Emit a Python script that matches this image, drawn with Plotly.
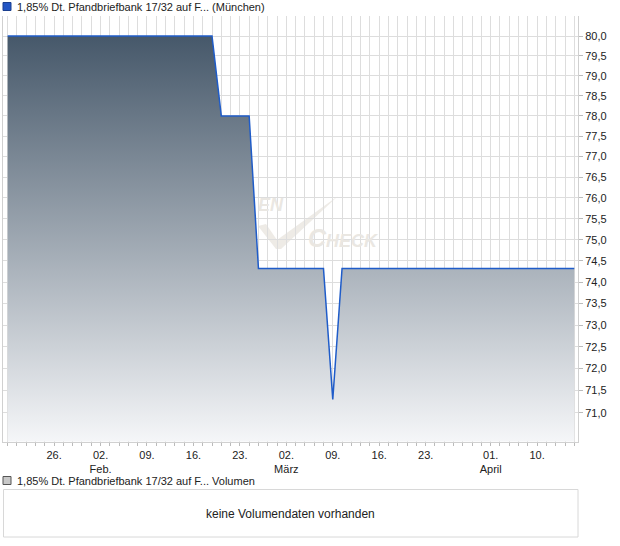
import pandas as pd
import plotly.graph_objects as go

# ---- data ----
title_main = "1,85% Dt. Pfandbriefbank 17/32 auf F... (München)"
title_vol = "1,85% Dt. Pfandbriefbank 17/32 auf F... Volumen"
no_volume_text = "keine Volumendaten vorhanden"

holidays = ["2026-04-03", "2026-04-06"]
dates = pd.bdate_range("2026-01-19", "2026-04-16", freq="C", holidays=holidays)
date_labels = [d.strftime("%Y-%m-%d") for d in dates]

prices = ([80.0] * 23 + [78.0] * 4 + [74.32] * 8 + [71.3] + [74.32] * 26)

tick_dates = ["2026-01-26", "2026-02-02", "2026-02-09", "2026-02-16", "2026-02-23",
              "2026-03-02", "2026-03-09", "2026-03-16", "2026-03-23", "2026-04-01", "2026-04-10"]
tick_texts = ["26.", "02.<br>Feb.", "09.", "16.", "23.", "02.<br>März", "09.", "16.", "23.",
              "01.<br>April", "10."]
y_ticks = [71.0, 71.5, 72.0, 72.5, 73.0, 73.5, 74.0, 74.5, 75.0, 75.5,
           76.0, 76.5, 77.0, 77.5, 78.0, 78.5, 79.0, 79.5, 80.0]

# ---- geometry helpers (pixel -> paper) ----
W, H = 620, 546
ML, MR, MT, MB = 3, 42, 16, 9
PW = W - ML - MR
PH = H - MT - MB


def px(x):
    return (x - ML) / PW


def py(y):
    return (H - MB - y) / PH


x_idx = list(range(len(date_labels)))
tick_idx = [date_labels.index(d) for d in tick_dates]

FONT = "Liberation Sans, Arial, sans-serif"

fig = go.Figure()
fig.add_trace(go.Scatter(
    x=x_idx, y=prices, mode="lines",
    line=dict(color="#1f5cc9", width=1.5),
    fill="tozeroy",
    fillgradient=dict(type="vertical", start=70.3, stop=80.0,
                      colorscale=[[0, "#f6f7f9"], [1, "#46586a"]]),
    hoverinfo="skip", showlegend=False,
))

main_bottom = py(441.5)

fig.update_layout(
    width=W, height=H,
    margin=dict(l=ML, r=MR, t=MT, b=MB),
    paper_bgcolor="white", plot_bgcolor="white",
    separators=",.",
    font=dict(family=FONT, size=11, color="#222222"),
    xaxis=dict(
        range=[-0.5, 61.4], zeroline=False,
        tickvals=tick_idx, ticktext=tick_texts,
        showgrid=True, gridcolor="#dddddd", gridwidth=1,
        ticks="outside", ticklen=3, tickcolor="#bbbbbb",
        minor=dict(dtick=1, tick0=0, showgrid=True, gridcolor="#dddddd",
                   ticks="outside", ticklen=3, tickcolor="#bbbbbb"),
        showline=True, linecolor="#d0d0d0", linewidth=1,
        tickfont=dict(size=11, color="#222222", family=FONT),
        fixedrange=True,
    ),
    yaxis=dict(
        type="log",
        domain=[main_bottom, 1], side="right",
        range=[1.847295, 1.905842], zeroline=False,
        tickvals=y_ticks, tickformat=".1f",
        showgrid=True, gridcolor="#dddddd", gridwidth=1,
        ticks="outside", ticklen=4, tickcolor="#bbbbbb",
        showline=True, mirror=True, linecolor="#d0d0d0", linewidth=1,
        tickfont=dict(size=11, color="#222222", family=FONT),
        fixedrange=True,
    ),
)

shapes = []
# top legend square
shapes.append(dict(type="rect", xref="paper", yref="paper",
                   x0=px(3), x1=px(11), y0=py(10.5), y1=py(2.5),
                   fillcolor="#2255c4", line=dict(color="#1a3f8f", width=1)))
# volume legend square
shapes.append(dict(type="rect", xref="paper", yref="paper",
                   x0=px(3), x1=px(11), y0=py(484.5), y1=py(476.5),
                   fillcolor="#c8c8c8", line=dict(color="#555555", width=1)))
# volume box
shapes.append(dict(type="rect", xref="paper", yref="paper",
                   x0=px(3.5), x1=px(578), y0=py(537), y1=py(489.5),
                   fillcolor="white", line=dict(color="#d8d8d8", width=1)))
# watermark check mark
pts = [(258, 226), (266, 224), (277, 240), (338, 196), (281, 249), (276, 249)]
path = "M " + " L ".join(f"{px(a):.5f},{py(b):.5f}" for a, b in pts) + " Z"
shapes.append(dict(type="path", xref="paper", yref="paper", path=path,
                   fillcolor="#eeebe6", line=dict(width=0), layer="below"))
fig.update_layout(shapes=shapes)

annotations = [
    dict(text=title_main, x=px(14.5), y=py(6.5), xref="paper", yref="paper",
         xanchor="left", yanchor="middle", showarrow=False,
         font=dict(size=11, color="#222222", family=FONT)),
    dict(text=title_vol, x=px(14.5), y=py(480.5), xref="paper", yref="paper",
         xanchor="left", yanchor="middle", showarrow=False,
         font=dict(size=11, color="#222222", family=FONT)),
    dict(text=no_volume_text, x=px(290.5), y=py(513.5), xref="paper", yref="paper",
         xanchor="center", yanchor="middle", showarrow=False,
         font=dict(size=12, color="#222222", family=FONT)),
    dict(text="<i><b>EN</b></i>", x=px(256), y=py(205), xref="paper", yref="paper",
         xanchor="left", yanchor="middle", showarrow=False,
         font=dict(size=18, color="#eae7e2", family=FONT)),
    dict(text="<i><b>C<span style='font-size:18px'>HECK</span></b></i>",
         x=px(306), y=py(238), xref="paper", yref="paper",
         xanchor="left", yanchor="middle", showarrow=False,
         font=dict(size=25, color="#eae7e2", family=FONT)),
]
fig.update_layout(annotations=annotations)

fig.write_html("out.html", config={"displayModeBar": False, "staticPlot": True},
               post_script="document.body.style.margin='0px';document.body.style.overflow='hidden';")
